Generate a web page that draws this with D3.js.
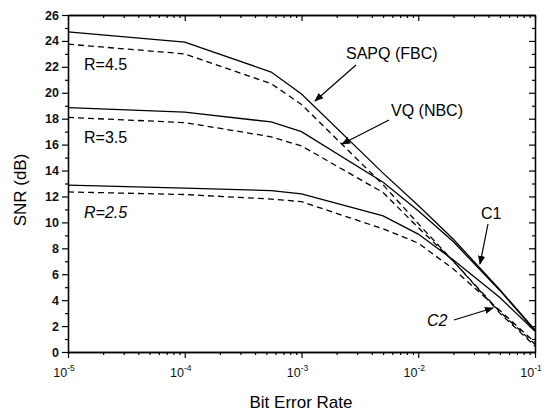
<!DOCTYPE html>
<html>
<head>
<meta charset="utf-8">
<script src="https://cdn.jsdelivr.net/npm/d3@7"></script>
<style>
  body { margin: 0; background: #fff; }
  svg { font-family: "Liberation Sans", Arial, sans-serif; }
</style>
</head>
<body>
<div class="chart"></div>
<script>
const width = 548;
const height = 414;

// bit error rates where the curves were sampled
const ber = [1e-5, 1e-4, 5.5e-4, 1e-3, 5e-3, 1e-2, 2e-2, 5e-2, 1e-1];

// SAPQ (FBC) - solid
const sapq45 = [24.7, 23.9, 21.6, 19.9, 13.8, 11.3, 8.7, 4.8, 1.7];
const sapq35 = [18.85, 18.5, 17.75, 17.0, 13.1, 10.9, 8.5, 4.75, 1.65];
const sapq25 = [12.87, 12.65, 12.45, 12.2, 10.5, 9.1, 7.1, 4.2, 1.6];

// VQ (NBC) - dashed
const vq45 = [23.75, 23.0, 20.7, 19.1, 12.9, 9.9, 7.0, 3.0, 0.45];
const vq35 = [18.1, 17.7, 16.6, 15.9, 12.3, 9.6, 7.0, 3.1, 0.6];
const vq25 = [12.35, 12.15, 11.8, 11.6, 9.5, 8.4, 6.4, 3.2, 0.75];

const yTicks = [0, 2, 4, 6, 8, 10, 12, 14, 16, 18, 20, 22, 24, 26];
const xTicks = [1e-5, 1e-4, 1e-3, 1e-2, 1e-1];
const xTickExp = ["-5", "-4", "-3", "-2", "-1"];

const rateLabels = ["R=4.5", "R=3.5", "R=2.5"];

const x = d3.scaleLog().domain([1e-5, 1e-1]).range([68, 535]);
const y = d3.scaleLinear().domain([0, 26]).range([352, 15]);

const svg = d3.select(".chart")
  .append("svg")
  .attr("width", width)
  .attr("height", height);

// arrow head
svg.append("defs").append("marker")
  .attr("id", "arrow")
  .attr("viewBox", "0 0 10 10")
  .attr("refX", 9).attr("refY", 5)
  .attr("markerWidth", 9).attr("markerHeight", 9)
  .attr("markerUnits", "userSpaceOnUse")
  .attr("orient", "auto")
  .append("path")
  .attr("d", "M0,1 L10,5 L0,9 Z")
  .attr("fill", "#000");

// minor ticks
const xMinor = [];
for (let e = -5; e < -1; e++) {
  for (let m = 2; m <= 9; m++) xMinor.push(m * Math.pow(10, e));
}
const yMinor = d3.range(1, 26, 2);

const axisStyle = g => {
  g.select(".domain").attr("stroke", "#000").attr("stroke-width", 1.3);
  g.selectAll(".tick line").attr("stroke", "#000").attr("stroke-width", 1.2);
};

// left axis
svg.append("g")
  .attr("transform", "translate(68,0)")
  .call(d3.axisLeft(y).tickValues(yTicks).tickSize(6).tickPadding(3).tickSizeOuter(0))
  .call(axisStyle)
  .call(g => g.selectAll("text")
    .attr("font-size", 12.5).attr("font-weight", "bold").attr("fill", "#111")
    .attr("font-family", "'Liberation Sans', Arial, sans-serif"));
svg.append("g")
  .attr("transform", "translate(68,0)")
  .call(d3.axisLeft(y).tickValues(yMinor).tickSize(3).tickFormat("").tickSizeOuter(0))
  .call(axisStyle);

// right axis (ticks inward)
svg.append("g")
  .attr("transform", "translate(535,0)")
  .call(d3.axisLeft(y).tickValues(yTicks).tickSize(6).tickFormat("").tickSizeOuter(0))
  .call(axisStyle);
svg.append("g")
  .attr("transform", "translate(535,0)")
  .call(d3.axisLeft(y).tickValues(yMinor).tickSize(3).tickFormat("").tickSizeOuter(0))
  .call(axisStyle);

// bottom axis
svg.append("g")
  .attr("transform", "translate(0,352)")
  .call(d3.axisBottom(x).tickValues(xTicks).tickSize(6).tickFormat("").tickSizeOuter(0))
  .call(axisStyle);
svg.append("g")
  .attr("transform", "translate(0,352)")
  .call(d3.axisBottom(x).tickValues(xMinor).tickSize(3).tickFormat("").tickSizeOuter(0))
  .call(axisStyle);

// top axis (ticks inward)
svg.append("g")
  .attr("transform", "translate(0,15)")
  .call(d3.axisBottom(x).tickValues(xTicks).tickSize(6).tickFormat("").tickSizeOuter(0))
  .call(axisStyle);
svg.append("g")
  .attr("transform", "translate(0,15)")
  .call(d3.axisBottom(x).tickValues(xMinor).tickSize(3).tickFormat("").tickSizeOuter(0))
  .call(axisStyle);

// x tick labels with superscripts
const xl = svg.append("g").selectAll("text")
  .data(xTicks)
  .enter()
  .append("text")
  .attr("x", d => x(d) - 4)
  .attr("y", 377)
  .attr("text-anchor", "middle")
  .attr("font-size", 12.5)
  .attr("fill", "#111");
xl.append("tspan").text("10");
xl.append("tspan")
  .attr("font-size", 8.5)
  .attr("dy", -6)
  .text((d, i) => xTickExp[i]);

// axis titles
svg.append("text")
  .attr("x", 301).attr("y", 408)
  .attr("text-anchor", "middle")
  .attr("font-size", 17)
  .text("Bit Error Rate");
svg.append("text")
  .attr("transform", "translate(26,190) rotate(-90)")
  .attr("text-anchor", "middle")
  .attr("font-size", 17)
  .text("SNR (dB)");

// curves
const line = d3.line()
  .x((d, i) => x(ber[i]))
  .y(d => y(d));

const series = [
  { values: sapq45, dash: null },
  { values: sapq35, dash: null },
  { values: sapq25, dash: null },
  { values: vq45, dash: "6,4" },
  { values: vq35, dash: "6,4" },
  { values: vq25, dash: "6,4" },
];

svg.append("g")
  .selectAll("path")
  .data(series)
  .enter()
  .append("path")
  .attr("d", d => line(d.values))
  .attr("fill", "none")
  .attr("stroke", "#000")
  .attr("stroke-width", 1.3)
  .attr("stroke-dasharray", d => d.dash);

// rate labels
const rateY = [70, 143, 218];
svg.append("g")
  .selectAll("text")
  .data(rateLabels)
  .enter()
  .append("text")
  .attr("x", 84)
  .attr("y", (d, i) => rateY[i])
  .attr("font-size", 16)
  .attr("font-style", (d, i) => i === 2 ? "italic" : "normal")
  .text(d => d);

// annotations
const notes = [
  { text: "SAPQ (FBC)", tx: 346, ty: 59, x1: 356, y1: 65, x2: 315, y2: 101, italic: false },
  { text: "VQ (NBC)", tx: 391, ty: 116, x1: 389, y1: 120, x2: 342, y2: 144, italic: false },
  { text: "C1", tx: 481, ty: 219, x1: 488, y1: 224, x2: 480, y2: 264, italic: false },
  { text: "C2", tx: 427, ty: 326, x1: 454, y1: 320, x2: 493, y2: 308, italic: true },
];

const note = svg.append("g").selectAll("g")
  .data(notes)
  .enter()
  .append("g");

note.append("text")
  .attr("x", d => d.tx)
  .attr("y", d => d.ty)
  .attr("font-size", 16)
  .attr("font-style", d => d.italic ? "italic" : "normal")
  .text(d => d.text);

note.append("line")
  .attr("x1", d => d.x1).attr("y1", d => d.y1)
  .attr("x2", d => d.x2).attr("y2", d => d.y2)
  .attr("stroke", "#000")
  .attr("stroke-width", 1.2)
  .attr("marker-end", "url(#arrow)");
</script>
</body>
</html>
